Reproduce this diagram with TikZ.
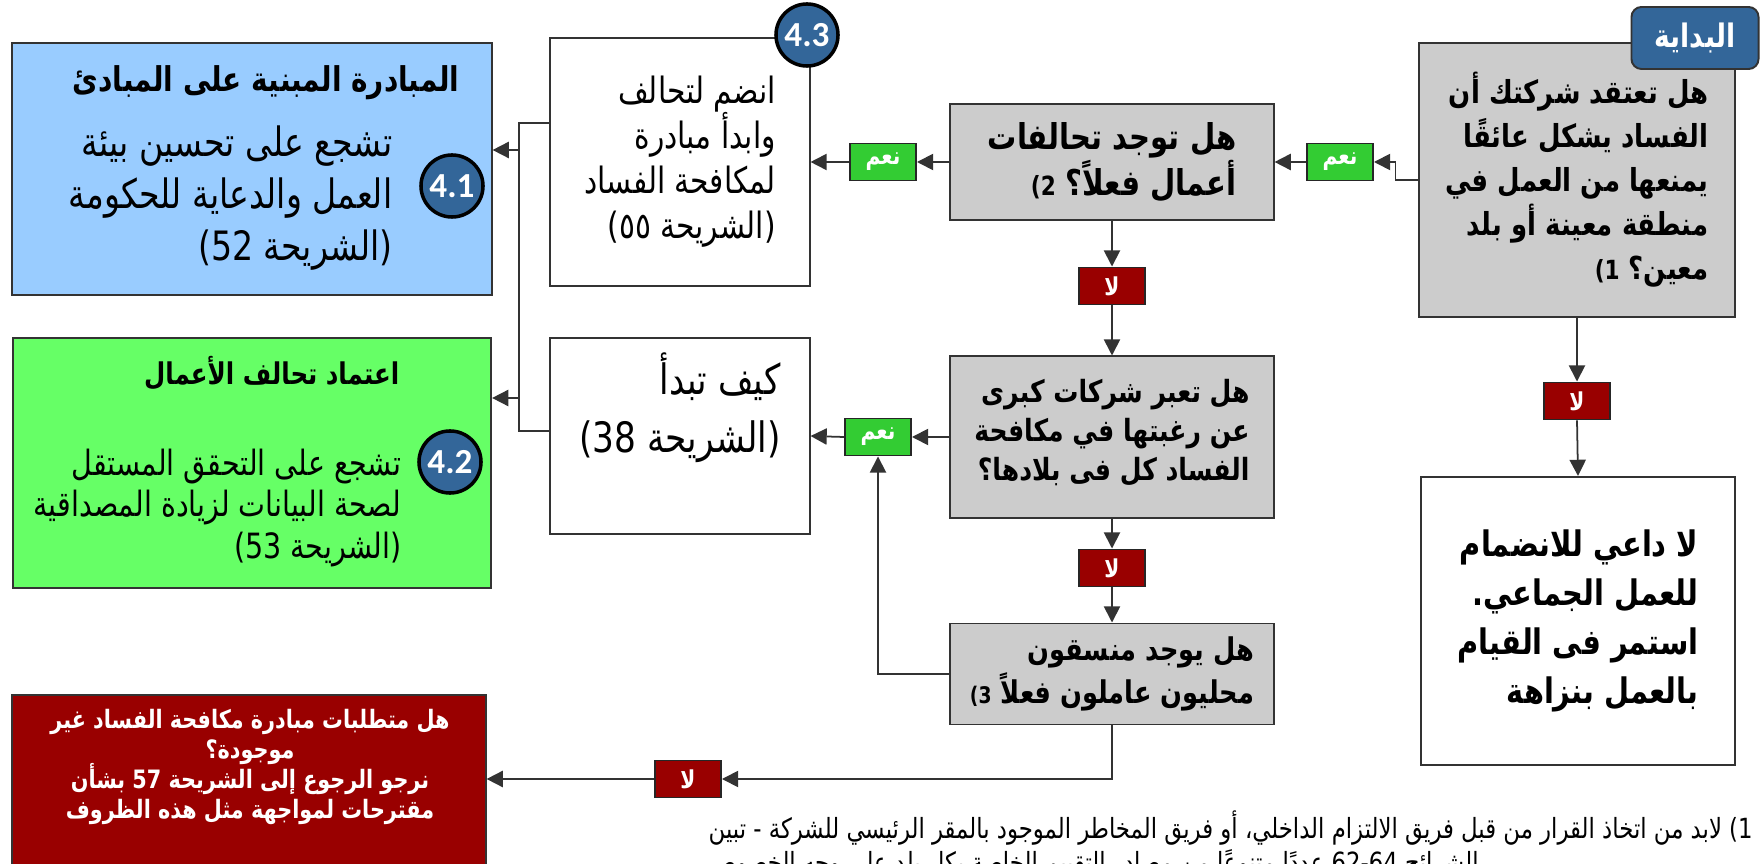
\documentclass[tikz,border=0pt]{standalone}
\usepackage{fontspec}
\setmainfont{Liberation Sans}
\newfontfamily\arabicfont[Script=Arabic, FakeStretch=0.82]{DejaVu Sans}
\newfontfamily\badgefont{Carlito}
\TeXXeTstate=1
\lineskiplimit=-30pt
\usetikzlibrary{arrows.meta,positioning}

\definecolor{qgray}{HTML}{CCCCCC}
\definecolor{yesfill}{HTML}{33CC33}
\definecolor{nofill}{HTML}{990000}
\definecolor{bluefill}{HTML}{99CCFF}
\definecolor{greenfill}{HTML}{66FF66}
\definecolor{badgeblue}{HTML}{336699}
\definecolor{wire}{HTML}{333333}

\newcommand{\rline}[1]{\beginR#1\endR}
\newcommand{\lnum}[1]{\beginL#1\endL{}}
\newcommand{\fsz}[2]{\fontsize{#1}{#2}\selectfont}

\tikzset{
  panel/.style={draw=black!80, line width=0.55pt, inner sep=0pt, align=right},
  question/.style={panel, fill=qgray, font=\arabicfont\bfseries},
  outcome/.style={panel, fill=white, font=\arabicfont},
  tag/.style={draw=black!85, line width=0.55pt, inner sep=0pt, minimum width=0.66cm,
    minimum height=0.37cm, text=white, font=\arabicfont\bfseries\fsz{7}{8}},
  yestag/.style={tag, fill=yesfill},
  notag/.style={tag, fill=nofill},
  badge/.style={circle, draw=black, line width=1pt, fill=badgeblue, minimum size=0.62cm,
    inner sep=0pt, text=white, font=\badgefont\bfseries\fsz{10}{12}},
  flow/.style={draw=wire, line width=0.5pt, -{Triangle[length=4.6pt,width=4.6pt]}},
  wireline/.style={draw=wire, line width=0.5pt},
}

\begin{document}
\begin{tikzpicture}[x=0.01cm, y=-0.01cm]
  \useasboundingbox (0,0) rectangle (1760,864);

  %% questions
  \node[question, minimum width=3.15cm, minimum height=2.73cm, font=\arabicfont\bfseries\fsz{9}{12.5}] (start) at (1577,180)
    {\rline{هل تعتقد شركتك أن}\\\rline{الفساد يشكل عائقًا}\\\rline{يمنعها من العمل في}\\\rline{منطقة معينة أو بلد}\\\rline{معين؟ {\fsz{7.5}{8}\lnum{1)}}}};
  \node[draw=black!80, line width=0.55pt, fill=badgeblue, rounded corners=0.1cm, minimum width=1.27cm,
    minimum height=0.62cm, inner sep=0pt, text=white, font=\arabicfont\bfseries\fsz{9.2}{11}] (tab) at (1695,38) {\rline{البداية}};

  \node[question, minimum width=3.23cm, minimum height=1.16cm, font=\arabicfont\bfseries\fsz{10.1}{13}] (gray1) at (1112,162)
    {\rline{هل توجد تحالفات}\\\rline{أعمال فعلاً؟ {\fsz{7.5}{8}\lnum{2)}}}};
  \node[question, minimum width=3.23cm, minimum height=1.61cm, font=\arabicfont\bfseries\fsz{8.7}{11.1}] (gray2) at (1112,437)
    {\rline{هل تعبر شركات كبرى}\\\rline{عن رغبتها في مكافحة}\\\rline{الفساد كل فى بلادها؟}\\[-0.25cm]\mbox{}};
  \node[question, minimum width=3.23cm, minimum height=1.01cm, font=\arabicfont\bfseries\fsz{8.9}{12.2}] (gray3) at (1112,674)
    {\rline{هل يوجد منسقون}\\\rline{محليون عاملون فعلاً {\fsz{6.5}{7}\lnum{3)}}}};

  %% outcomes
  \node[outcome, minimum width=3.14cm, minimum height=2.88cm, font=\arabicfont\bfseries\fsz{10}{13.9}] (nobox) at (1578,621)
    {\rline{لا داعي للانضمام}\\\rline{للعمل الجماعي.}\\\rline{استمر فى القيام}\\\rline{بالعمل بنزاهة}};
  \node[outcome, minimum width=2.59cm, minimum height=2.48cm, font=\arabicfont\fsz{10.3}{12.8}] (box43) at (680,162)
    {\rline{انضم لتحالف}\\\rline{وابدأ مبادرة}\\\rline{لمكافحة الفساد}\\\rline{(الشريحة ٥٥)}};
  \node[outcome, minimum width=2.59cm, minimum height=1.96cm, font=\arabicfont\fsz{11.9}{16.5}] (kayf) at (680,436)
    {\rline{كيف تبدأ}\\\rline{(الشريحة \lnum{38)}}\\[0.08cm]\mbox{}};

  \node[panel, fill=bluefill, minimum width=4.79cm, minimum height=2.52cm] (blue) at (252,169) {};
  \node[anchor=east, inner sep=0pt, font=\arabicfont\bfseries\fsz{9.7}{13}] (bluetitle) at (460,83)
    {\rline{المبادرة المبنية على المبادئ}};
  \node[anchor=east, inner sep=0pt, align=right, font=\arabicfont\fsz{11.5}{14.7}] (bluebody) at (393,198)
    {\rline{تشجع على تحسين بيئة}\\\rline{العمل والدعاية للحكومة}\\\rline{(الشريحة \lnum{52)}}};

  \node[panel, fill=greenfill, minimum width=4.78cm, minimum height=2.50cm] (green) at (252,463) {};
  \node[anchor=east, inner sep=0pt, font=\arabicfont\bfseries\fsz{8.5}{13}] (greentitle) at (400,373)
    {\rline{اعتماد تحالف الأعمال}};
  \node[anchor=east, inner sep=0pt, align=right, font=\arabicfont\fsz{9.9}{11.8}] (greenbody) at (402,508)
    {\rline{تشجع على التحقق المستقل}\\\rline{لصحة البيانات لزيادة المصداقية}\\\rline{(الشريحة \lnum{53)}}};

  \node[panel, fill=nofill, minimum width=4.73cm, minimum height=1.75cm] (red) at (249,783) {};
  \node[inner sep=0pt, align=center, text=white, font=\arabicfont\bfseries\fsz{7.2}{8.6}] (redtext) at (250,767)
    {\rline{هل متطلبات مبادرة مكافحة الفساد غير}\\\rline{موجودة؟}\\\rline{نرجو الرجوع إلى الشريحة \lnum{57} بشأن}\\\rline{مقترحات لمواجهة مثل هذه الظروف}};

  %% badges
  \node[badge] (b41) at (452,186) {4.1};
  \node[badge] (b42) at (450,462) {4.2};
  \node[badge] (b43) at (807,35) {4.3};

  %% yes / no tags
  \node[yestag] (namR) at (1340,162) {\rline{نعم}};
  \node[yestag] (nam1) at (883,162) {\rline{نعم}};
  \node[yestag] (nam2) at (878,437) {\rline{نعم}};
  \node[notag] (la1) at (1112,286) {\rline{لا}};
  \node[notag] (la2) at (1112,568) {\rline{لا}};
  \node[notag] (la3) at (1577,401) {\rline{لا}};
  \node[notag] (la4) at (688,779) {\rline{لا}};

  %% footnote
  \node[anchor=north west, inner sep=0pt, align=left, font=\arabicfont\fsz{7.9}{9.6}] (note) at (708,810)
    {\rline{\lnum{1)} لابد من اتخاذ القرار من قبل فريق الالتزام الداخلي، أو فريق المخاطر الموجود بالمقر الرئيسي للشركة - تبين}\\\rline{الشرائح \lnum{62-64} عددًا متنوعًا من مصادر التقييم الخاصة بكل بلد على وجه الخصوص}};

  %% connectors
  \draw[flow] (start.west) -- ++(-23,0) |- (namR.east);
  \draw[flow] (namR.west) -- (gray1.east);
  \draw[flow] (gray1.west) -- (nam1.east);
  \draw[flow] (nam1.west) -- (box43.east);
  \draw[flow] (gray1.south) -- (la1.north);
  \draw[flow] (la1.south) -- (gray2.north);
  \draw[flow] (gray2.west) -- (nam2.east);
  \draw[flow] (nam2.west) -- (kayf.east);
  \draw[flow] (gray2.south) -- (la2.north);
  \draw[flow] (la2.south) -- (gray3.north);
  \draw[flow] (gray3.west) -| (nam2.south);
  \draw[flow] (gray3.south) |- (la4.east);
  \draw[flow] (la4.west) -- (la4.west -| red.east);
  \draw[flow] (start.south) -- (la3.north);
  \draw[flow] (la3.south) -- (nobox.north);

  \coordinate (busTop) at (519,123);
  \coordinate (busBot) at (519,431);
  \coordinate (tapBlue) at (519,150);
  \coordinate (tapGreen) at (519,398);
  \draw[wireline] (busTop -| box43.west) -- (busTop) -- (busBot) -- (busBot -| kayf.west);
  \draw[flow] (tapBlue) -- (tapBlue -| blue.east);
  \draw[flow] (tapGreen) -- (tapGreen -| green.east);
\end{tikzpicture}
\end{document}
